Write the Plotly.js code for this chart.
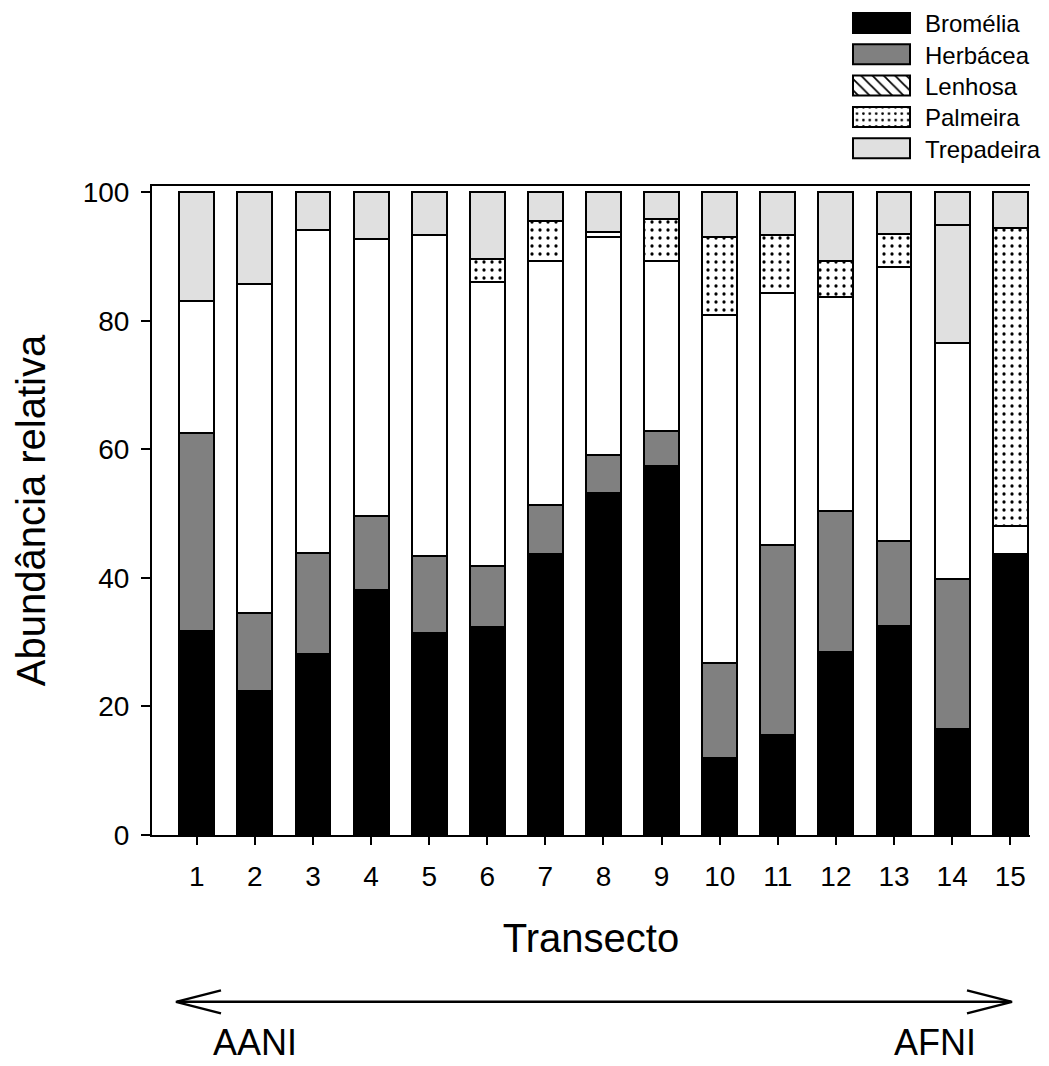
<!DOCTYPE html>
<html>
<head>
<meta charset="utf-8">
<script src="https://cdn.plot.ly/plotly-3.0.1.min.js"></script>
<style>html,body{margin:0;padding:0;background:#fff;}#chart{width:1049px;height:1066px;}</style>
</head>
<body>
<div id="chart"></div>
<script>
const transectos = [1,2,3,4,5,6,7,8,9,10,11,12,13,14,15];
const tickLabels = ['1','2','3','4','5','6','7','8','9','10','11','12','13','14','15'];
const bromelia   = [31.8, 22.4, 28.1, 38.2, 31.5, 32.4, 43.7, 53.2, 57.5, 12.0, 15.6, 28.5, 32.5, 16.5, 43.8];
const herbacea   = [30.7, 12.1, 15.8, 11.4, 11.9,  9.4,  7.7,  5.9,  5.3, 14.8, 29.5, 22.0, 13.2, 23.3,  0.0];
const lenhosa    = [20.6, 51.2, 50.3, 43.1, 50.0, 44.2, 37.9, 33.9, 26.6, 54.2, 39.2, 33.2, 42.7, 36.7,  4.3];
const palmeira   = [ 0.0,  0.0,  0.0,  0.0,  0.0,  3.6,  6.3,  0.9,  6.4, 12.0,  9.1,  5.7,  5.2, 18.4, 46.4];
const trepadeira = [16.9, 14.3,  5.8,  7.3,  6.6, 10.4,  4.4,  6.1,  4.2,  7.0,  6.6, 10.6,  6.4,  5.1,  5.5];
// in transect 14 the Palmeira segment is drawn with a plain light-grey fill in the original
const plainPalmIndex = 13;

const FONT = 'Arial, "Liberation Sans", Helvetica, sans-serif';
const line = {color: '#000', width: 2};
const W = 0.6;

const palmDotted = palmeira.map((v, i) => i === plainPalmIndex ? null : v);
const palmPlain  = palmeira.map((v, i) => i === plainPalmIndex ? v : null);

const data = [
  {type: 'bar', name: 'Bromélia', x: transectos, y: bromelia, width: W,
   marker: {color: '#000000', line: line}},
  {type: 'bar', name: 'Herbácea', x: transectos, y: herbacea, width: W,
   marker: {color: '#808080', line: line}},
  {type: 'bar', name: 'Lenhosa', x: transectos, y: lenhosa, width: W, showlegend: false,
   marker: {color: '#ffffff', line: line}},
  {type: 'bar', name: 'Lenhosa', x: transectos, y: transectos.map(() => null), width: W,
   marker: {color: '#ffffff', line: line,
            pattern: {shape: '\\', fgcolor: '#000', bgcolor: '#fff', size: 15, solidity: 0.22}}},
  {type: 'bar', name: 'Palmeira', x: transectos, y: palmDotted, width: W,
   marker: {color: '#ffffff', line: line,
            pattern: {shape: '.', fgcolor: '#000', bgcolor: '#fff', size: 8, solidity: 0.13}}},
  {type: 'bar', name: 'Palmeira', x: transectos, y: palmPlain, width: W, showlegend: false,
   marker: {color: '#e0e0e0', line: line}},
  {type: 'bar', name: 'Trepadeira', x: transectos, y: trepadeira, width: W,
   marker: {color: '#e0e0e0', line: line}}
];

const L = 152, R = 1030, T = 186, B = 835.5;
const YMAX = 101;
const px = v => (v - L) / (R - L);
const py = v => (B - v) / (B - T);

const layout = {
  width: 1049, height: 1066,
  margin: {l: L, r: 1049 - R, t: T, b: 1066 - B, pad: 0, autoexpand: false},
  paper_bgcolor: '#fff', plot_bgcolor: '#fff',
  barmode: 'stack',
  bargap: 0,
  showlegend: true,
  font: {family: FONT, color: '#000'},
  legend: {x: px(880), y: py(0), xanchor: 'left', yanchor: 'top', traceorder: 'normal',
           font: {family: FONT, size: 24, color: '#000'}, bgcolor: 'rgba(0,0,0,0)',
           borderwidth: 0, tracegroupgap: 0},
  xaxis: {range: [0.23, 15.34], tickvals: transectos, ticktext: tickLabels,
          showline: true, mirror: true, linecolor: '#000', linewidth: 2,
          ticks: 'outside', ticklen: 8, tickwidth: 2, tickcolor: '#000',
          showgrid: false, zeroline: false, automargin: false, ticklabelstandoff: 7,
          tickfont: {family: FONT, size: 28, color: '#000'},
          title: {text: 'Transecto', font: {family: FONT, size: 40, color: '#000'}, standoff: 33}},
  yaxis: {range: [0, YMAX], tickvals: [0, 20, 40, 60, 80, 100],
          showline: true, mirror: false, linecolor: '#000', linewidth: 2,
          ticks: 'outside', ticklen: 9, tickwidth: 2, tickcolor: '#000',
          showgrid: false, zeroline: false, automargin: false, ticklabelstandoff: 6,
          tickfont: {family: FONT, size: 28, color: '#000'},
          title: {text: 'Abundância relativa', font: {family: FONT, size: 40, color: '#000'}, standoff: 25}},
  shapes: [
    {type: 'line', xref: 'paper', yref: 'paper', x0: px(177), x1: px(1011), y0: py(1002.5), y1: py(1002.5),
     line: {color: '#000', width: 2.5}},
    {type: 'path', xref: 'paper', yref: 'paper',
     path: `M${px(221)},${py(991)} L${px(176)},${py(1002.5)} L${px(221)},${py(1014)}`,
     line: {color: '#000', width: 2.5}},
    {type: 'path', xref: 'paper', yref: 'paper',
     path: `M${px(967)},${py(991)} L${px(1012)},${py(1002.5)} L${px(967)},${py(1014)}`,
     line: {color: '#000', width: 2.5}}
  ],
  annotations: [
    {text: 'AANI', xref: 'paper', yref: 'paper', x: px(254.5), y: py(1065), xanchor: 'center', yanchor: 'bottom',
     borderpad: 0, showarrow: false, font: {family: FONT, size: 36, color: '#000'}},
    {text: 'AFNI', xref: 'paper', yref: 'paper', x: px(934.5), y: py(1065), xanchor: 'center', yanchor: 'bottom',
     borderpad: 0, showarrow: false, font: {family: FONT, size: 36, color: '#000'}}
  ]
};

// legend geometry of the reference: text starts at x=925, rows centred at y=23 + i*31.3,
// swatches 57x20 ending 15px left of the text
const LEG_TEXT_X = 925, LEG_ROW0 = 23, LEG_ROW_STEP = 31.3, SW_W = 57, SW_H = 20, SW_GAP = 15;

Plotly.newPlot('chart', data, layout, {displayModeBar: false, staticPlot: true}).then(() => {
  document.querySelectorAll('.legend [clip-path]').forEach(e => e.removeAttribute('clip-path'));
  const items = document.querySelectorAll('.legend .traces');
  items.forEach((tr, i) => {
    const sym = tr.querySelector('.legendpoints path');
    const txt = tr.querySelector('.legendtext');
    if (!sym || !txt) return;
    const sr = sym.getBoundingClientRect();
    const tRect = txt.getBoundingClientRect();
    const cx = (sr.left + sr.right) / 2;
    const cy = (sr.top + sr.bottom) / 2;
    const dx = LEG_TEXT_X - tRect.left;
    const dy = (LEG_ROW0 + i * LEG_ROW_STEP) - cy;
    const right = tRect.left - SW_GAP - cx;
    const left = right - SW_W;
    tr.querySelectorAll('.legendpoints path').forEach(p => {
      p.setAttribute('d', `M${left},${SW_H / 2}H${right}V${-SW_H / 2}H${left}Z`);
    });
    const t = tr.getAttribute('transform') || '';
    const m = t.match(/translate\(\s*([-\d.eE]+)[ ,]+([-\d.eE]+)\s*\)/);
    const x0 = m ? parseFloat(m[1]) : 0;
    const y0 = m ? parseFloat(m[2]) : 0;
    tr.setAttribute('transform', `translate(${x0 + dx},${y0 + dy})`);
  });
});
</script>
</body>
</html>
